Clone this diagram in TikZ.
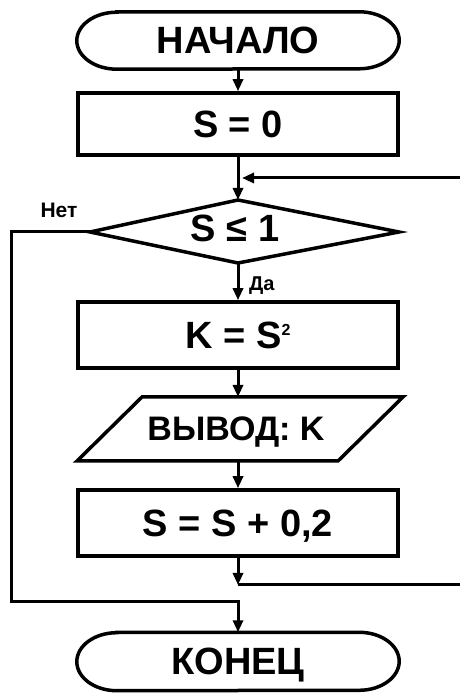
\documentclass[tikz,border=0pt]{standalone}
\usepackage{fontspec}
\setmainfont{Liberation Sans}
\usetikzlibrary{arrows.meta,calc}
\begin{document}
\begin{tikzpicture}[x=1pt,y=1pt,
  border/.style={line width=3.5pt, line join=miter},
  conn/.style={line width=3pt},
  arr/.style={conn, -{Triangle[length=12pt,width=10pt]}},
  maintext/.style={font=\fontsize{38}{40}\selectfont\bfseries, text height=27pt, text depth=0pt, inner sep=0pt},
  proc/.style={draw, border, minimum width=320pt, inner sep=0pt, font=\fontsize{38}{40}\selectfont\bfseries, text height=27pt, text depth=0pt},
  term/.style={minimum width=322pt, inner sep=0pt, font=\fontsize{38}{40}\selectfont\bfseries, text height=27pt, text depth=0pt},
  lbl/.style={font=\fontsize{21}{23}\selectfont\bfseries, inner sep=0pt}
]
\useasboundingbox[fill=white] (0,0) rectangle (460,693);

% start terminal
\node (start) [term, minimum height=57pt] at (238,652.5) {НАЧАЛО};
\draw[border] ([xshift=40pt]start.north west) -- ([xshift=-40pt]start.north east)
  arc[start angle=90,end angle=-90,x radius=40pt,y radius=28.5pt]
  -- ([xshift=40pt]start.south west)
  arc[start angle=270,end angle=90,x radius=40pt,y radius=28.5pt] -- cycle;

% S = 0
\node (b1) [proc, minimum height=62pt] at (238,569) {S = 0};

% decision
\coordinate (dT) at (238,493);
\coordinate (dR) at (399,461);
\coordinate (dB) at (238,430);
\coordinate (dL) at (90,461);
\draw[border] (dT) -- (dR) -- (dB) -- (dL) -- cycle;
\node (dec) [maintext] at (235,465) {S ≤ 1};

% K = S^2
\node (b2) [proc, minimum height=66pt] at (238,358) {K = S\raisebox{13pt}{\fontsize{16}{16}\selectfont 2}};

% output parallelogram
\coordinate (pT) at (238,296);
\coordinate (pB) at (238,232);
\coordinate (pTL) at (142,296);
\coordinate (pTR) at (403,296);
\coordinate (pBR) at (338,232);
\coordinate (pBL) at (77,232);
\draw[border] (pTL) -- (pTR) -- (pBR) -- (pBL) -- cycle;
\node (out) [maintext, font=\fontsize{34}{36}\selectfont\bfseries, text height=24pt] at (236,264.5) {ВЫВОД: K};

% S = S + 0,2
\node (b3) [proc, minimum height=66pt] at (238,170) {S = S + 0,2};

% end terminal
\node (end) [term, minimum height=58pt] at (238,31.5) {КОНЕЦ};
\draw[border] ([xshift=40pt]end.north west) -- ([xshift=-40pt]end.north east)
  arc[start angle=90,end angle=-90,x radius=40pt,y radius=29pt]
  -- ([xshift=40pt]end.south west)
  arc[start angle=270,end angle=90,x radius=40pt,y radius=29pt] -- cycle;

% junctions
\coordinate (loopin) at (462,515);
\coordinate (j1) at (242,515);
\coordinate (j2) at (238,108);
\coordinate (loopout) at (462,108);
\coordinate (nl) at (11,461);
\coordinate (nb) at (11,91);
\coordinate (ne) at (238,91);

% connectors
\draw[arr] (start.south) -- (b1.north);
\draw[arr] (b1.south) -- (dT);
\draw[arr] (loopin) -- (j1);
\draw[arr] (dB) -- (b2.north);
\draw[arr] (b2.south) -- (pT);
\draw[arr] (pB) -- (b3.north);
\draw[arr] (b3.south) -- (j2);
\draw[conn] (j2) -- (loopout);
\draw[arr] (dL) -- (nl) -- (nb) -- (ne) -- (end.north);

% labels
\node (no) [lbl] at (59,483) {Нет};
\node (yes) [lbl, font=\fontsize{20}{22}\selectfont\bfseries, anchor=west] at (249,407) {Да};
\end{tikzpicture}
\end{document}
